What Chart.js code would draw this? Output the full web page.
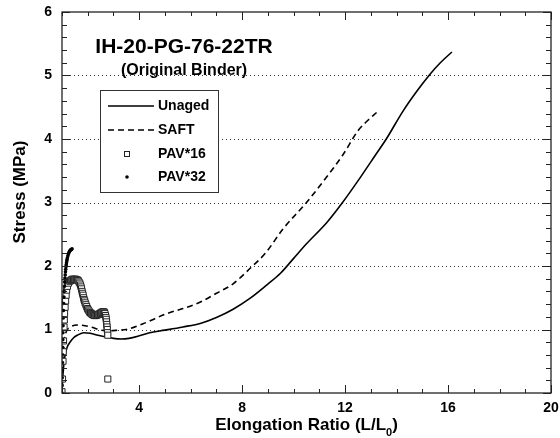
<!DOCTYPE html>
<html>
<head>
<meta charset="utf-8">
<script src="https://cdn.jsdelivr.net/npm/chart.js@4.4.1/dist/chart.umd.min.js"></script>
<style>
  html, body { margin: 0; padding: 0; background: #fff; }
</style>
</head>
<body>
<canvas id="c" width="560" height="438"></canvas>
<script>
// Tick labels
const xTickValues = [4, 8, 12, 16, 20];
const yTickValues = [0, 1, 2, 3, 4, 5, 6];
const gridValues = [1, 2, 3, 4, 5];

// Series names
const seriesNames = ['Unaged', 'SAFT', 'PAV*16', 'PAV*32'];

// Unaged binder
const unagedX = [1.00, 1.03, 1.07, 1.12, 1.20, 1.31, 1.45, 1.60, 1.85, 2.10, 2.40, 2.75, 3.00, 3.30, 3.60, 4.00, 4.40, 5.00, 5.70, 6.40, 7.00, 7.65, 8.30, 8.95, 9.50, 10.00, 10.50, 11.30, 11.90, 12.60, 13.20, 13.60, 14.25, 14.80, 15.30, 15.70, 16.15];
const unagedY = [0.00, 0.25, 0.45, 0.60, 0.72, 0.80, 0.87, 0.91, 0.95, 0.94, 0.91, 0.88, 0.86, 0.85, 0.86, 0.90, 0.95, 0.99, 1.04, 1.10, 1.19, 1.32, 1.49, 1.70, 1.89, 2.12, 2.35, 2.69, 3.00, 3.40, 3.76, 4.00, 4.44, 4.76, 5.02, 5.20, 5.37];

// SAFT aged binder
const saftX = [1.00, 1.03, 1.07, 1.15, 1.30, 1.60, 1.90, 2.20, 2.50, 2.80, 3.20, 3.50, 4.15, 5.07, 5.70, 6.36, 7.00, 7.65, 8.30, 8.90, 9.60, 10.50, 11.28, 11.93, 12.50, 12.90, 13.23];
const saftY = [0.00, 0.40, 0.75, 0.95, 1.03, 1.07, 1.06, 1.03, 0.99, 0.98, 0.99, 1.00, 1.09, 1.25, 1.33, 1.43, 1.57, 1.72, 1.96, 2.20, 2.59, 3.00, 3.40, 3.76, 4.13, 4.30, 4.42];

// PAV*16 aged binder
const pav16X = [1.00, 1.02, 1.04, 1.05, 1.06, 1.08, 1.09, 1.10, 1.12, 1.14, 1.16, 1.18, 1.21, 1.25,
  1.30, 1.33, 1.36, 1.39, 1.42, 1.45, 1.48, 1.51, 1.54, 1.57, 1.60, 1.63, 1.66, 1.69, 1.72, 1.74, 1.76, 1.78, 1.80, 1.82,
  1.84, 1.86, 1.88, 1.90, 1.93, 1.96, 1.99, 2.02, 2.05, 2.08, 2.11, 2.14, 2.17, 2.20, 2.23, 2.26, 2.29, 2.32, 2.35, 2.38,
  2.41, 2.44, 2.47, 2.50, 2.53, 2.56, 2.59, 2.62, 2.65, 2.67, 2.69, 2.71, 2.72, 2.73, 2.74, 2.75, 2.76, 2.77, 2.78, 2.78];
const pav16Y = [0.02, 0.22, 0.50, 0.65, 0.82, 1.04, 1.15, 1.25, 1.35, 1.45, 1.54, 1.62, 1.68, 1.73,
  1.76, 1.77, 1.78, 1.79, 1.79, 1.79, 1.79, 1.79, 1.79, 1.78, 1.78, 1.77, 1.75, 1.73, 1.70, 1.67, 1.64, 1.60, 1.57, 1.54,
  1.50, 1.47, 1.45, 1.42, 1.39, 1.36, 1.33, 1.31, 1.29, 1.27, 1.26, 1.25, 1.24, 1.23, 1.23, 1.22, 1.22, 1.22, 1.23, 1.23,
  1.24, 1.24, 1.25, 1.26, 1.27, 1.27, 1.28, 1.28, 1.27, 1.25, 1.22, 1.19, 1.16, 1.12, 1.08, 1.04, 1.00, 0.95, 0.91, 0.22];

// PAV*32 aged binder
const pav32X = [1.000, 1.004, 1.008, 1.012, 1.016, 1.020, 1.025, 1.030, 1.035, 1.040, 1.048, 1.056, 1.065, 1.075, 1.085, 1.095, 1.105, 1.115, 1.125, 1.135, 1.145, 1.155, 1.165, 1.175, 1.185, 1.195, 1.21, 1.23, 1.25, 1.27, 1.29, 1.31, 1.33, 1.35, 1.37, 1.39];
const pav32Y = [0.00, 0.12, 0.24, 0.36, 0.48, 0.60, 0.72, 0.84, 0.95, 1.06, 1.18, 1.30, 1.41, 1.51, 1.60, 1.68, 1.75, 1.81, 1.86, 1.91, 1.95, 1.99, 2.02, 2.05, 2.08, 2.10, 2.13, 2.16, 2.19, 2.21, 2.23, 2.24, 2.25, 2.26, 2.26, 2.27];

const toPoints = (xs, ys) => xs.map((x, i) => ({ x: x, y: ys[i] }));

const FONT = '"Liberation Sans", Arial, Helvetica, sans-serif';

// Dotted grid, inward ticks, frame, legend and labels
const decorations = {
  id: 'decorations',
  beforeDatasetsDraw(chart) {
    const { ctx, chartArea: a, scales: { y } } = chart;
    ctx.save();
    ctx.strokeStyle = '#333';
    ctx.lineWidth = 1;
    ctx.setLineDash([1, 3]);
    gridValues.forEach(v => {
      const py = Math.round(y.getPixelForValue(v)) + 0.5;
      ctx.beginPath();
      ctx.moveTo(a.left, py);
      ctx.lineTo(a.right, py);
      ctx.stroke();
    });
    ctx.restore();
  },
  afterDatasetsDraw(chart) {
    const { ctx, chartArea: a, scales: { x, y } } = chart;
    ctx.save();
    ctx.strokeStyle = '#222';
    ctx.lineWidth = 1;
    // x ticks every 1, major every 4
    for (let k = 1; k <= 20; k++) {
      const px = Math.round(x.getPixelForValue(k)) + 0.5;
      const len = (k % 4 === 0) ? 8 : 4;
      ctx.beginPath();
      ctx.moveTo(px, a.bottom); ctx.lineTo(px, a.bottom - len);
      ctx.moveTo(px, a.top); ctx.lineTo(px, a.top + len);
      ctx.stroke();
    }
    // y ticks every 0.2, major every 1
    for (let k = 0; k <= 30; k++) {
      const py = Math.round(y.getPixelForValue(k / 5)) + 0.5;
      const len = (k % 5 === 0) ? 8 : 5;
      ctx.beginPath();
      ctx.moveTo(a.left, py); ctx.lineTo(a.left + len, py);
      ctx.moveTo(a.right, py); ctx.lineTo(a.right - len, py);
      ctx.stroke();
    }
    // frame
    ctx.lineWidth = 1.3;
    ctx.strokeRect(a.left, a.top, a.right - a.left, a.bottom - a.top);
    ctx.restore();
  },
  afterDraw(chart) {
    const { ctx, chartArea: a } = chart;
    ctx.save();
    ctx.fillStyle = '#000';

    // sample annotation
    ctx.textAlign = 'center';
    ctx.textBaseline = 'middle';
    ctx.font = 'bold 21px ' + FONT;
    ctx.fillText('IH-20-PG-76-22TR', 184, 47);
    ctx.font = 'bold 16px ' + FONT;
    ctx.fillText('(Original Binder)', 184, 71);

    // y axis title
    ctx.save();
    ctx.translate(20, 192);
    ctx.rotate(-Math.PI / 2);
    ctx.font = 'bold 17px ' + FONT;
    ctx.fillText('Stress (MPa)', 0, 0);
    ctx.restore();

    // x axis title with subscript
    const main = 'Elongation Ratio (L/L';
    const sub = '0';
    const close = ')';
    ctx.font = 'bold 17px ' + FONT;
    const wMain = ctx.measureText(main).width;
    const wClose = ctx.measureText(close).width;
    ctx.font = 'bold 11px ' + FONT;
    const wSub = ctx.measureText(sub).width;
    const total = wMain + wSub + wClose;
    let sx = (a.left + a.right) / 2 - total / 2;
    ctx.textAlign = 'left';
    ctx.font = 'bold 17px ' + FONT;
    ctx.fillText(main, sx, 425);
    ctx.font = 'bold 11px ' + FONT;
    ctx.fillText(sub, sx + wMain, 433);
    ctx.font = 'bold 17px ' + FONT;
    ctx.fillText(close, sx + wMain + wSub, 425);

    // legend
    const bx = 100.5, by = 90.5, bw = 118, bh = 102;
    ctx.fillStyle = '#fff';
    ctx.fillRect(bx, by, bw, bh);
    ctx.strokeStyle = '#333';
    ctx.lineWidth = 1;
    ctx.strokeRect(bx, by, bw, bh);
    const rows = [106, 130, 154, 177];
    chart.data.datasets.forEach((ds, i) => {
      const ry = rows[i];
      ctx.save();
      if (ds.showLine) {
        ctx.strokeStyle = '#000';
        ctx.lineWidth = 1.6;
        ctx.setLineDash(ds.borderDash || []);
        ctx.beginPath();
        ctx.moveTo(108, ry); ctx.lineTo(154, ry);
        ctx.stroke();
      } else if (ds.pointStyle === 'rect') {
        ctx.strokeStyle = '#222';
        ctx.lineWidth = 1;
        ctx.fillStyle = '#fff';
        ctx.fillRect(124.5, ry - 2.5, 5, 5);
        ctx.strokeRect(124.5, ry - 2.5, 5, 5);
      } else {
        ctx.fillStyle = '#000';
        ctx.beginPath();
        ctx.arc(127, ry, 1.8, 0, Math.PI * 2);
        ctx.fill();
      }
      ctx.restore();
      ctx.fillStyle = '#000';
      ctx.font = 'bold 14px ' + FONT;
      ctx.textAlign = 'left';
      ctx.textBaseline = 'middle';
      ctx.fillText(ds.label, 158, ry);
    });
    ctx.restore();
  }
};

new Chart(document.getElementById('c'), {
  type: 'scatter',
  data: {
    datasets: [
      {
        label: seriesNames[0],
        data: toPoints(unagedX, unagedY),
        showLine: true,
        borderColor: '#000',
        borderWidth: 1.6,
        pointRadius: 0,
        cubicInterpolationMode: 'monotone',
        order: 3
      },
      {
        label: seriesNames[1],
        data: toPoints(saftX, saftY),
        showLine: true,
        borderColor: '#000',
        borderWidth: 1.6,
        borderDash: [6, 4],
        pointRadius: 0,
        cubicInterpolationMode: 'monotone',
        order: 2
      },
      {
        label: seriesNames[2],
        data: toPoints(pav16X, pav16Y),
        showLine: false,
        pointStyle: 'rect',
        pointRadius: 4.3,
        pointBorderWidth: 1,
        pointBorderColor: '#222',
        pointBackgroundColor: '#fff',
        order: 1
      },
      {
        label: seriesNames[3],
        data: toPoints(pav32X, pav32Y),
        showLine: false,
        pointStyle: 'circle',
        pointRadius: 1.8,
        pointBorderWidth: 0,
        pointBackgroundColor: '#000',
        order: 0
      }
    ]
  },
  options: {
    responsive: false,
    animation: false,
    devicePixelRatio: 1,
    layout: { padding: { left: 0, right: 9, top: 12, bottom: 0 } },
    plugins: {
      legend: { display: false },
      tooltip: { enabled: false },
      title: { display: false }
    },
    scales: {
      x: {
        type: 'linear',
        min: 1,
        max: 20,
        grid: { display: false, drawTicks: false },
        border: { display: false },
        afterBuildTicks: s => { s.ticks = xTickValues.map(v => ({ value: v })); },
        afterFit: s => { s.height = 45; s.paddingLeft = 0; s.paddingRight = 0; },
        ticks: {
          autoSkip: false,
          maxRotation: 0,
          padding: 7,
          color: '#000',
          font: { family: FONT, size: 14, weight: 'bold' }
        }
      },
      y: {
        type: 'linear',
        min: 0,
        max: 6,
        grid: { display: false, drawTicks: false },
        border: { display: false },
        afterBuildTicks: s => { s.ticks = yTickValues.map(v => ({ value: v })); },
        afterFit: s => { s.width = 62; s.paddingTop = 0; s.paddingBottom = 0; },
        ticks: {
          padding: 10,
          color: '#000',
          font: { family: FONT, size: 14, weight: 'bold' }
        }
      }
    }
  },
  plugins: [decorations]
});
</script>
</body>
</html>
